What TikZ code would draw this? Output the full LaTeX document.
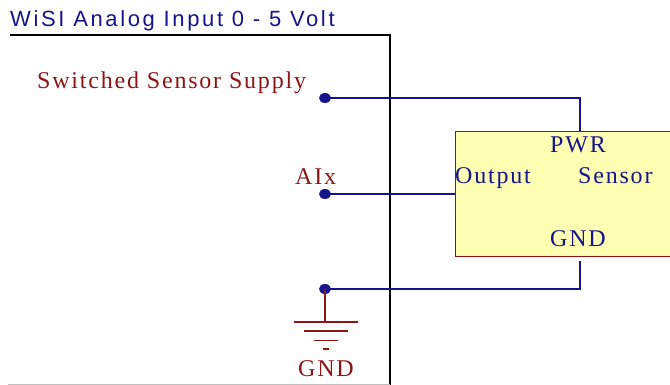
\documentclass[tikz,border=0pt]{standalone}
\usepackage{fontspec}
\usetikzlibrary{positioning,shapes.geometric}
\newfontfamily\titlefont[LetterSpace=12]{Liberation Sans}
\newfontfamily\pinfont[LetterSpace=7.5]{Liberation Serif}
\definecolor{wire}{RGB}{20,20,140}
\definecolor{pinred}{RGB}{140,20,20}
\definecolor{boxfill}{RGB}{255,255,180}

\begin{document}
\begin{tikzpicture}[x=1pt,y=-1pt,
    wireline/.style={wire, line width=1.8pt},
    dot/.style={ellipse, fill=wire, inner sep=0pt, minimum width=12pt, minimum height=10pt},
    pinlabel/.style={pinred, font=\pinfont\fontsize{24}{26}\selectfont, inner sep=0pt, anchor=base west},
    boxlabel/.style={wire, font=\pinfont\fontsize{24}{26}\selectfont, inner sep=0pt, anchor=base west}]
    \useasboundingbox (0,0) rectangle (670,385);

    % Cornice
    \draw[line width=1.5pt] (10,35) -- (390,35) -- (390,385);
    \draw[gray!50] (8,384) -- (390,384);
    \node[wire, font=\titlefont\fontsize{22}{24}\selectfont, inner sep=0pt, anchor=base west] (title) at (10,27) {WiSI Analog Input 0 - 5 Volt};

    % Sensore
    \node[draw=pinred, fill=boxfill, line width=1.4pt, minimum width=230pt, minimum height=125pt, inner sep=0pt, anchor=north west] (sensor) at (455,131) {};
    \node[boxlabel] (pwr label) at (550,153) {PWR};
    \node[boxlabel] (out label) at (455,184) {Output};
    \node[boxlabel] (sens label) at (578,184) {Sensor};
    \node[boxlabel] (gnd label) at (550,247) {GND};

    % Morsetti
    \node[dot] (sup) at (325,98) {};
    \node[dot] (ain) at (325,194) {};
    \node[dot] (gnd) at (325,289) {};
    \node[pinlabel] (sup label) at (37,89) {Switched Sensor Supply};
    \node[pinlabel] (ain label) at (295,185) {AIx};

    % Collegamenti
    \coordinate (pwr pin) at (580,131);
    \coordinate (gnd pin) at (580,261);
    \draw[wireline] (sup.center) -| (pwr pin);
    \draw[wireline] (ain.center) -- (ain.center -| sensor.west);
    \draw[wireline] (gnd.center) -| (gnd pin);

    % Massa
    \coordinate (earth) at (326,322);
    \draw[pinred, line width=1.8pt] (gnd.center) -- (gnd.center |- earth);
    \foreach \w/\dy in {32/0, 22/9, 12/18.5, 3/27}
        \draw[pinred, line width=1.8pt] ([shift={(-\w,\dy)}]earth) -- ([shift={(\w,\dy)}]earth);
    \node[pinlabel] (earth label) at (298,376) {GND};
\end{tikzpicture}
\end{document}
